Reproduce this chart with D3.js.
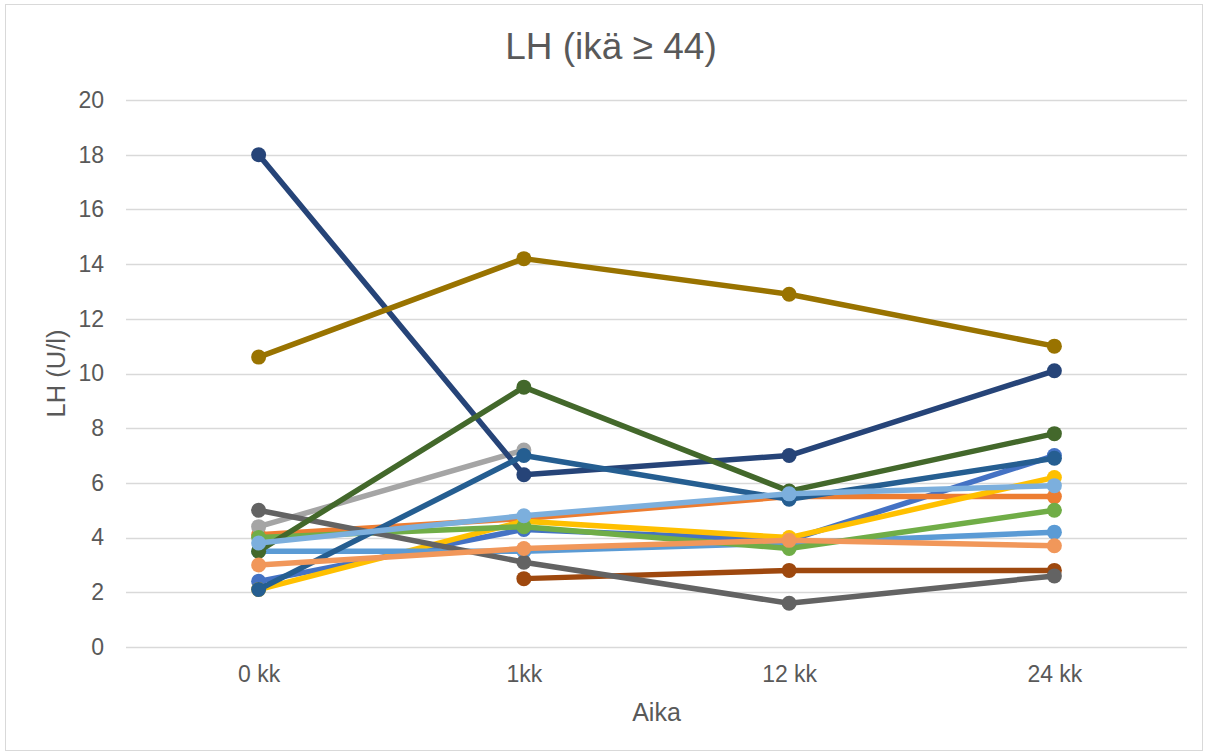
<!DOCTYPE html>
<html>
<head>
<meta charset="utf-8">
<script src="https://cdn.jsdelivr.net/npm/d3@7"></script>
<style>
  html, body { margin: 0; padding: 0; background: #fff; }
  svg { display: block; font-family: "Liberation Sans", Arial, sans-serif; }
</style>
</head>
<body>
<svg id="chart" width="1208" height="756"></svg>
<script>
// Time points on the x axis
const categories = ["0 kk", "1kk", "12 kk", "24 kk"];
const yTicks = [0, 2, 4, 6, 8, 10, 12, 14, 16, 18, 20];

// One series per subject (LH, U/l); null = no measurement
const s1  = [2.4, 4.3, 3.9, 7.0];
const s2  = [4.1, 4.7, 5.5, 5.5];
const s3  = [4.4, 7.2, null, null];
const s4  = [2.1, 4.6, 4.0, 6.2];
const s5  = [3.5, 3.5, 3.8, 4.2];
const s6  = [4.0, 4.4, 3.6, 5.0];
const s7  = [18.0, 6.3, 7.0, 10.1];
const s8  = [null, 2.5, 2.8, 2.8];
const s9  = [5.0, 3.1, 1.6, 2.6];
const s10 = [10.6, 14.2, 12.9, 11.0];
const s11 = [2.1, 7.0, 5.4, 6.9];
const s12 = [3.5, 9.5, 5.7, 7.8];
const s13 = [3.0, 3.6, 3.9, 3.7];
const s14 = [3.8, 4.8, 5.6, 5.9];

const seriesValues = [s1, s2, s3, s4, s5, s6, s7, s8, s9, s10, s11, s12, s13, s14];
const seriesColors = ["#4472C4", "#ED7D31", "#A5A5A5", "#FFC000", "#5B9BD5", "#70AD47",
                      "#264478", "#9E480E", "#636363", "#997300", "#255E91", "#43682B",
                      "#F1975A", "#7CAFDD"];

const svg = d3.select("#chart");
const W = 1208, H = 756;
const textColor = "#595959";

// Outer chart border
svg.append("rect")
  .attr("x", 5.5).attr("y", 4.5)
  .attr("width", W - 11).attr("height", H - 10)
  .attr("fill", "#fff").attr("stroke", "#d9d9d9").attr("stroke-width", 1);

const plot = { left: 126, right: 1187, top: 100, bottom: 647 };

const x = d3.scalePoint()
  .domain(categories)
  .range([plot.left, plot.right])
  .padding(0.5);

const y = d3.scaleLinear()
  .domain([0, 20])
  .range([plot.bottom, plot.top]);

// Horizontal gridlines
svg.append("g")
  .selectAll("line")
  .data(yTicks)
  .join("line")
  .attr("x1", plot.left).attr("x2", plot.right)
  .attr("y1", d => Math.round(y(d)) + 0.5).attr("y2", d => Math.round(y(d)) + 0.5)
  .attr("stroke", "#d9d9d9").attr("stroke-width", 1.3);

// Y axis labels
const yAxis = d3.axisLeft(y).tickValues(yTicks).tickSize(0).tickPadding(22);
const gy = svg.append("g").attr("transform", `translate(${plot.left},0)`).call(yAxis);
gy.select(".domain").remove();
gy.selectAll("text")
  .attr("fill", textColor).style("font-size", "23px")
  .style("font-family", "'Liberation Sans', Arial, sans-serif");

// X axis labels
const xAxis = d3.axisBottom(x).tickSize(0).tickPadding(19);
const gx = svg.append("g").attr("transform", `translate(0,${plot.bottom})`).call(xAxis);
gx.select(".domain").remove();
gx.selectAll("text")
  .attr("fill", textColor).style("font-size", "23px")
  .style("font-family", "'Liberation Sans', Arial, sans-serif");

// Series lines and markers
const line = d3.line()
  .defined(d => d.v !== null)
  .x(d => x(d.c))
  .y(d => y(d.v));

seriesValues.forEach((vals, i) => {
  const pts = vals.map((v, j) => ({ c: categories[j], v }));
  const g = svg.append("g");
  g.append("path")
    .datum(pts)
    .attr("d", line)
    .attr("fill", "none")
    .attr("stroke", seriesColors[i])
    .attr("stroke-width", 5.5)
    .attr("stroke-linejoin", "round")
    .attr("stroke-linecap", "round");
  g.selectAll("circle")
    .data(pts.filter(d => d.v !== null))
    .join("circle")
    .attr("cx", d => x(d.c))
    .attr("cy", d => y(d.v))
    .attr("r", 7.5)
    .attr("fill", seriesColors[i]);
});

// Title
svg.append("text")
  .attr("x", 611).attr("y", 59)
  .attr("text-anchor", "middle")
  .attr("fill", textColor)
  .style("font-size", "37px")
  .text("LH (ikä ≥ 44)");

// Axis titles
svg.append("text")
  .attr("transform", `translate(65,${(plot.top + plot.bottom) / 2}) rotate(-90)`)
  .attr("text-anchor", "middle")
  .attr("fill", textColor)
  .style("font-size", "25.5px")
  .text("LH (U/l)");

svg.append("text")
  .attr("x", (plot.left + plot.right) / 2).attr("y", 721)
  .attr("text-anchor", "middle")
  .attr("fill", textColor)
  .style("font-size", "25px")
  .text("Aika");
</script>
</body>
</html>
